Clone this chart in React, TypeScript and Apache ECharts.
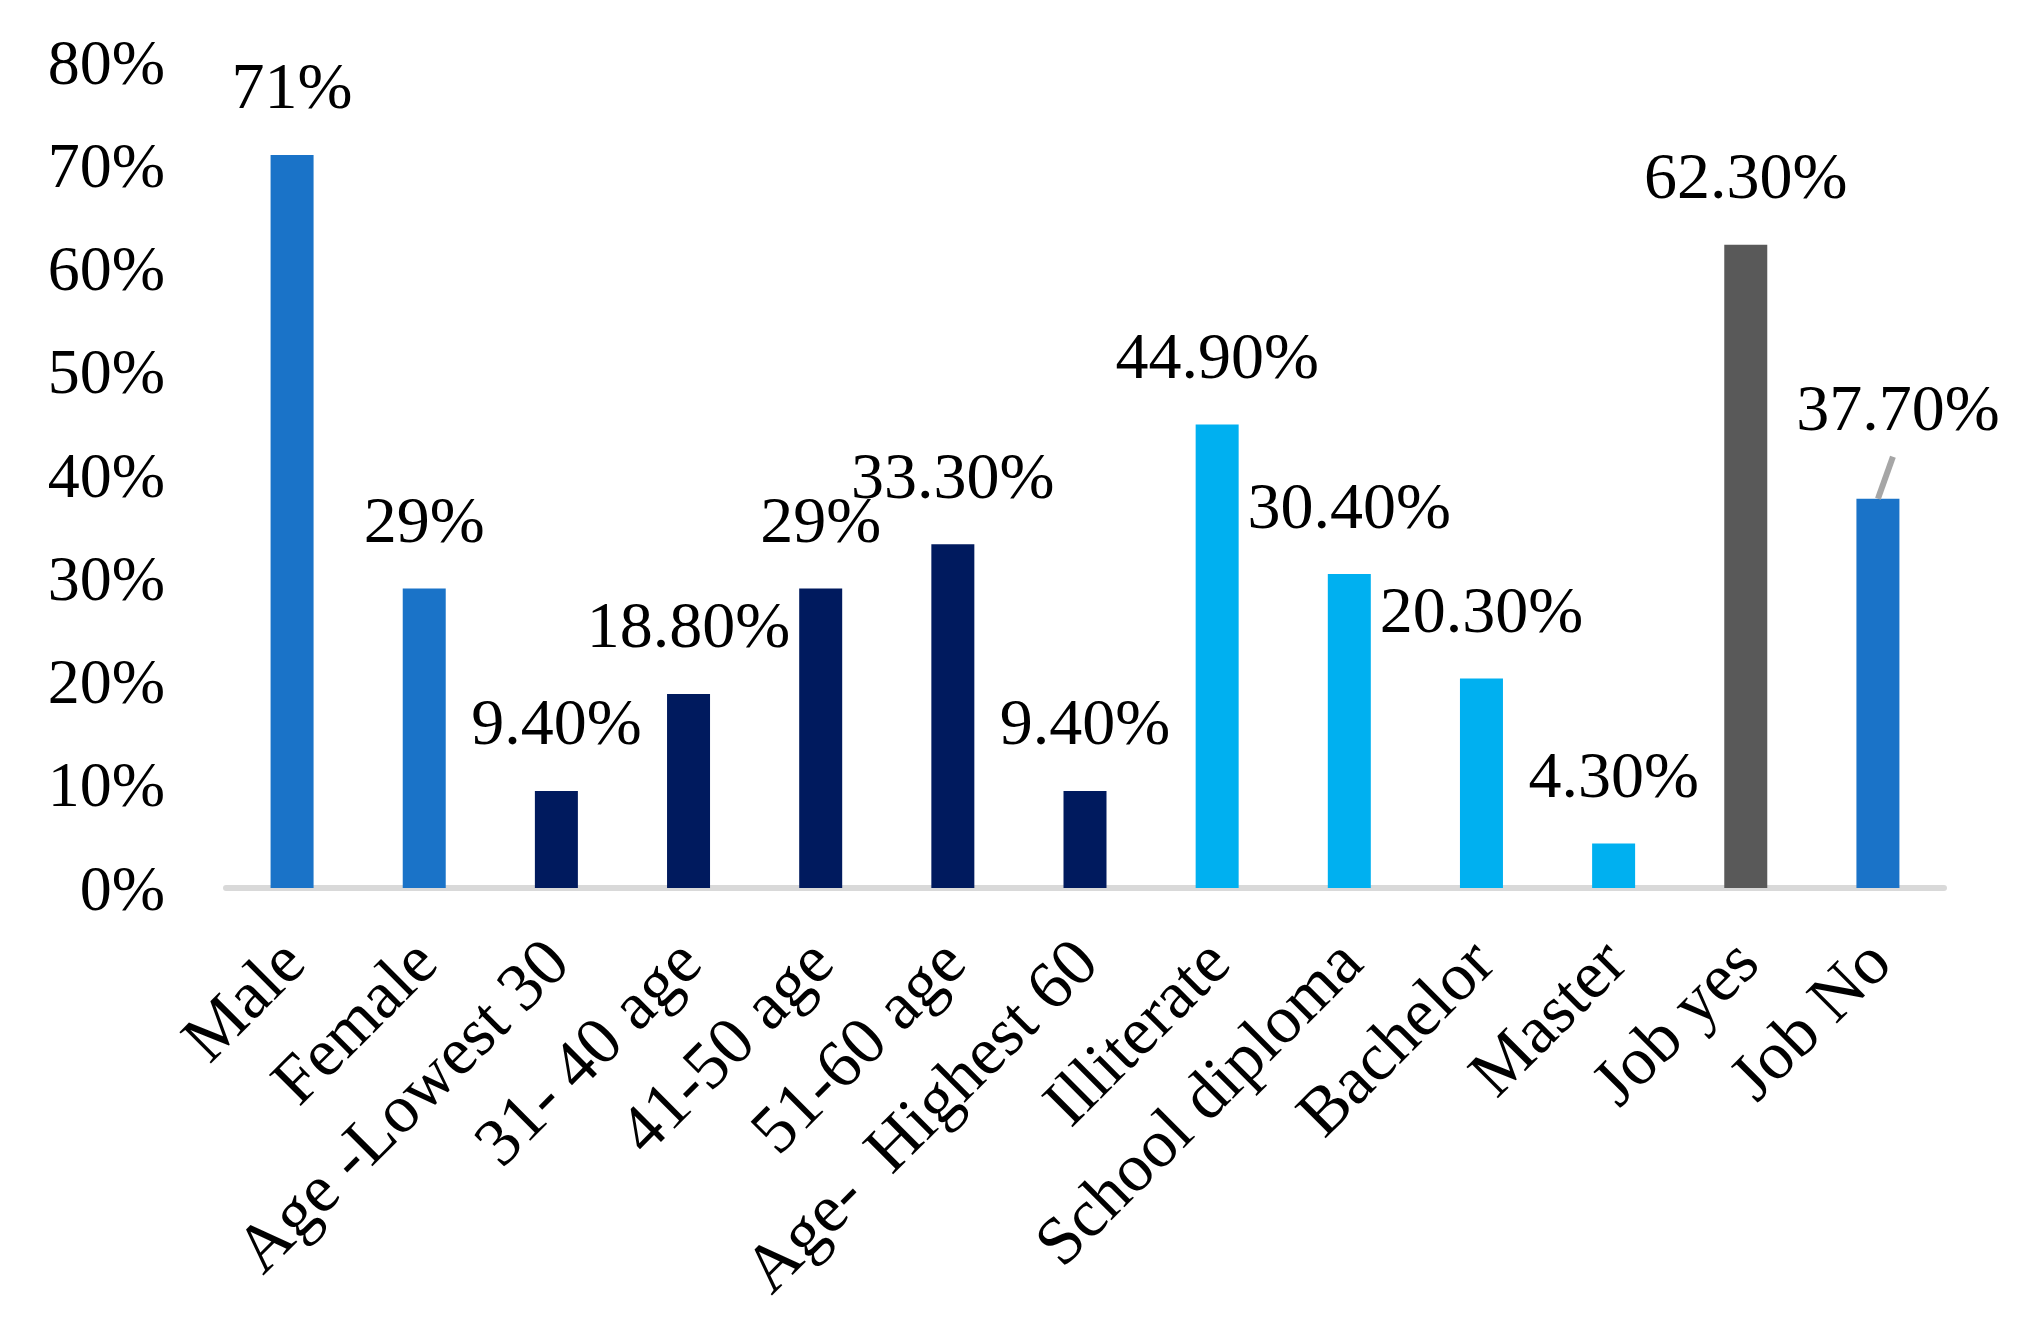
import React, { useEffect, useRef } from "react";
import * as echarts from "echarts";

const categories = [
  "Male",
  "Female",
  "Age -Lowest 30",
  "31- 40 age",
  "41-50 age",
  "51-60 age",
  "Age-  Highest 60",
  "Illiterate",
  "School diploma",
  "Bachelor",
  "Master",
  "Job yes",
  "Job No",
];
const values = [71, 29, 9.4, 18.8, 29, 33.3, 9.4, 44.9, 30.4, 20.3, 4.3, 62.3, 37.7];
const valueLabels = [
  "71%", "29%", "9.40%", "18.80%", "29%", "33.30%", "9.40%",
  "44.90%", "30.40%", "20.30%", "4.30%", "62.30%", "37.70%",
];
const barColors = [
  "#1a73c8", "#1a73c8",
  "#001a5e", "#001a5e", "#001a5e", "#001a5e", "#001a5e",
  "#00b0f0", "#00b0f0", "#00b0f0", "#00b0f0",
  "#595959", "#1a73c8",
];
const yTicks = [0, 10, 20, 30, 40, 50, 60, 70, 80];
const movedLabelIndex = 12;

const FONT = '"Liberation Serif", "Times New Roman", serif';

export default function App() {
  const ref = useRef<HTMLDivElement>(null);
  useEffect(() => {
    document.body.style.margin = "0";
    const chart = echarts.init(ref.current!, undefined, { renderer: "svg" });
    chart.setOption({
      animation: false,
      backgroundColor: "#ffffff",
      grid: { left: 226, right: 82, top: 62, bottom: 437, containLabel: false },
      xAxis: {
        type: "category",
        data: categories,
        axisLine: { show: true, lineStyle: { color: "#d9d9d9", width: 6 } },
        axisTick: { show: false },
        axisLabel: {
          rotate: 45,
          interval: 0,
          margin: 62,
          color: "#000",
          fontFamily: FONT,
          fontSize: 68,
        },
      },
      yAxis: {
        type: "value",
        min: yTicks[0],
        max: yTicks[yTicks.length - 1],
        interval: 10,
        axisLine: { show: false },
        axisTick: { show: false },
        splitLine: { show: false },
        axisLabel: {
          margin: 61,
          color: "#000",
          fontFamily: FONT,
          fontSize: 64,
          formatter: "{value}%",
        },
      },
      series: [
        {
          type: "bar",
          barWidth: 43,
          data: values.map((v, i) => ({
            value: v,
            itemStyle: { color: barColors[i] },
            label: {
              show: true,
              position: "top",
              distance: 36,
              formatter: () => valueLabels[i],
              color: "#000",
              fontFamily: FONT,
              fontSize: 66,
            },
          })),
          labelLayout: (p: any) =>
            p.dataIndex === movedLabelIndex ? { dx: 20, dy: -22 } : {},
        },
      ],
    });
    const top = chart.convertToPixel({ seriesIndex: 0 }, [
      movedLabelIndex,
      values[movedLabelIndex],
    ]) as number[];
    chart.setOption({
      graphic: [
        {
          type: "line",
          shape: { x1: top[0], y1: top[1], x2: top[0] + 15, y2: top[1] - 42 },
          style: { stroke: "#a6a6a6", lineWidth: 6 },
          z: 10,
        },
      ],
    });
    return () => chart.dispose();
  }, []);
  return <div ref={ref} style={{ width: 2026, height: 1325 }} />;
}
